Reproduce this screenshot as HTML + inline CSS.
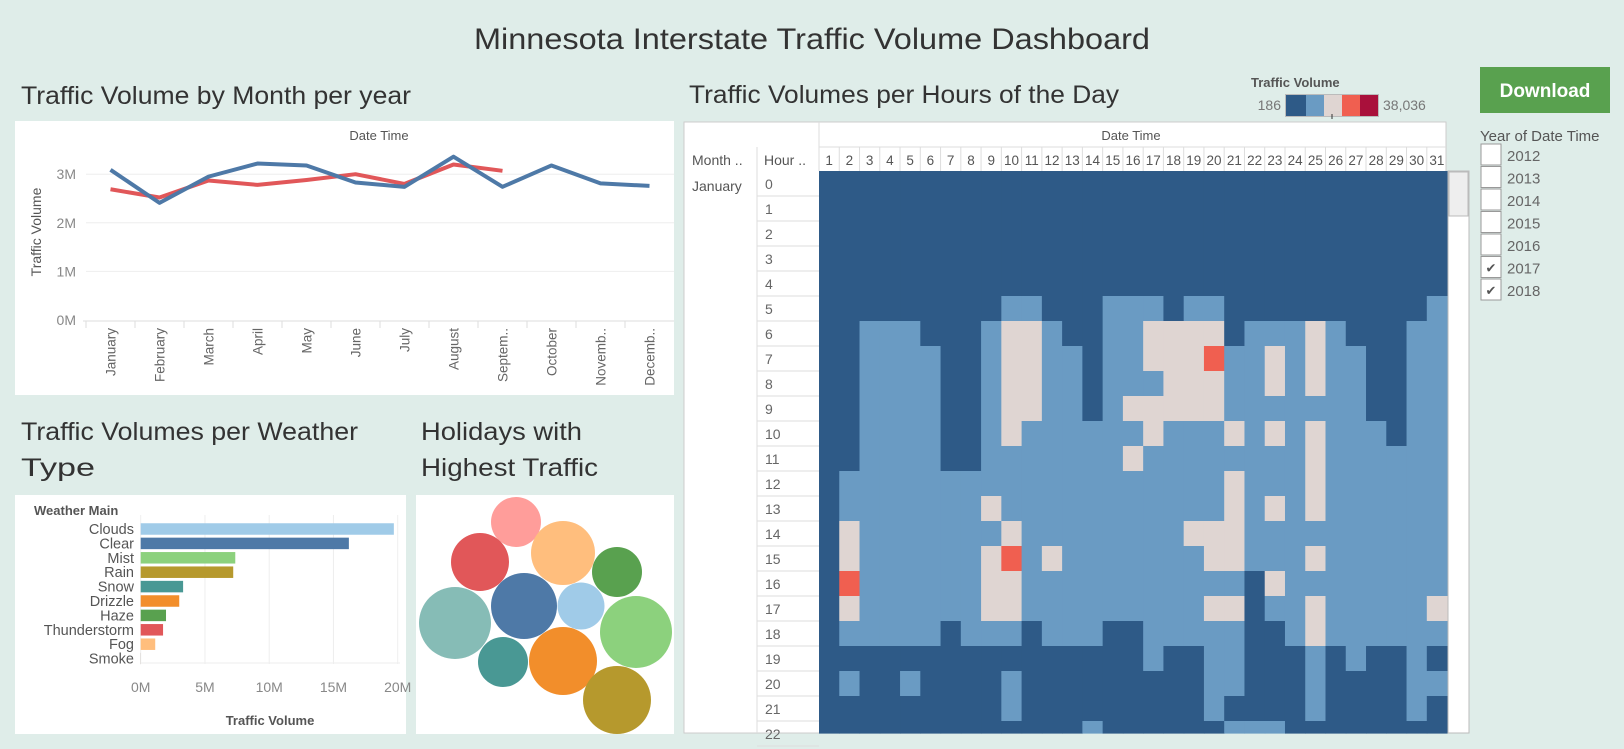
<!DOCTYPE html>
<html><head><meta charset="utf-8"><title>Minnesota Interstate Traffic Volume Dashboard</title>
<style>
html,body{margin:0;padding:0;background:#dfede9;}
svg{display:block;font-family:"Liberation Sans",sans-serif;}
</style></head>
<body>
<svg id="dash" width="1624" height="749" viewBox="0 0 1624 749" xmlns="http://www.w3.org/2000/svg">
<rect x="0" y="0" width="1624" height="749" fill="#dfede9"/>
<text x="812" y="49" text-anchor="middle" font-size="30" fill="#333" textLength="676" lengthAdjust="spacingAndGlyphs">Minnesota Interstate Traffic Volume Dashboard</text>

<!-- line chart -->
<text x="21" y="104" font-size="25" fill="#333" textLength="390" lengthAdjust="spacingAndGlyphs">Traffic Volume by Month per year</text>
<rect x="15" y="121" width="659" height="274" fill="#fff"/>
<text x="379" y="140" text-anchor="middle" font-size="13" fill="#555">Date Time</text>
<text transform="translate(41,232) rotate(-90)" text-anchor="middle" font-size="14" fill="#555">Traffic Volume</text>
<g id="lineChart"></g>

<!-- bar chart -->
<text x="21" y="440" font-size="25" fill="#333" textLength="337" lengthAdjust="spacingAndGlyphs">Traffic Volumes per Weather</text>
<text x="21" y="476" font-size="25" fill="#333" textLength="74" lengthAdjust="spacingAndGlyphs">Type</text>
<rect x="15" y="495" width="391" height="239" fill="#fff"/>
<text x="34" y="515" font-size="13" font-weight="bold" fill="#555">Weather Main</text>
<text x="270" y="725" text-anchor="middle" font-size="13" font-weight="bold" fill="#555">Traffic Volume</text>
<g id="barChart"></g>

<!-- bubble chart -->
<text x="421" y="440" font-size="25" fill="#333" textLength="161" lengthAdjust="spacingAndGlyphs">Holidays with</text>
<text x="421" y="476" font-size="25" fill="#333" textLength="177" lengthAdjust="spacingAndGlyphs">Highest Traffic</text>
<rect x="416" y="495" width="258" height="239" fill="#fff"/>
<clipPath id="bclip"><rect x="416" y="495" width="258" height="239"/></clipPath>
<g id="bubbleChart" clip-path="url(#bclip)"></g>

<!-- heatmap -->
<text x="689" y="103" font-size="25" fill="#333" textLength="430" lengthAdjust="spacingAndGlyphs">Traffic Volumes per Hours of the Day</text>
<rect x="684" y="122" width="762" height="611" fill="#fff" stroke="#ccc"/>
<line x1="819" y1="122" x2="819" y2="171" stroke="#ddd"/>
<line x1="819" y1="147" x2="1446" y2="147" stroke="#ddd"/>
<line x1="757" y1="147" x2="757" y2="733" stroke="#ddd"/>
<text x="1131" y="140" text-anchor="middle" font-size="13" fill="#555">Date Time</text>
<text x="692" y="165" font-size="14" fill="#555">Month ..</text>
<text x="764" y="165" font-size="14" fill="#555">Hour ..</text>
<text x="692" y="191" font-size="14" fill="#555">January</text>
<g id="heatmap"></g>
<rect x="1448" y="171" width="21" height="562" fill="#fff" stroke="#bbb"/>
<rect x="1449" y="172" width="19" height="44" fill="#eee" stroke="#bbb"/>

<!-- legend -->
<text x="1251" y="87" font-size="13" font-weight="bold" fill="#555">Traffic Volume</text>
<text x="1281" y="110" text-anchor="end" font-size="14" fill="#777">186</text>
<text x="1383" y="110" font-size="14" fill="#777">38,036</text>
<g>
<rect x="1285" y="94" width="94" height="23" fill="#bbb"/>
<rect x="1286" y="95" width="20" height="21" fill="#2e5a87"/>
<rect x="1306" y="95" width="18" height="21" fill="#6a9bc3"/>
<rect x="1324" y="95" width="18" height="21" fill="#dfd5d2"/>
<rect x="1342" y="95" width="18" height="21" fill="#f05f50"/>
<rect x="1360" y="95" width="18" height="21" fill="#a9103b"/>
<line x1="1332" y1="114" x2="1332" y2="119" stroke="#333"/>
</g>

<!-- download -->
<g>
<rect x="1480" y="67" width="130" height="46" fill="#59a14f"/>
<text x="1545" y="97" text-anchor="middle" font-size="19" font-weight="bold" fill="#fff">Download</text>
</g>
<text x="1480" y="141" font-size="15" fill="#555">Year of Date Time</text>
<g id="yearFilter"></g>
</svg>

<script>
const NS="http://www.w3.org/2000/svg";
function mk(tag,attrs,parent){const e=document.createElementNS(NS,tag);for(const k in attrs)e.setAttribute(k,attrs[k]);parent.appendChild(e);return e;}

/* ---------- line chart data ---------- */
const months=["January","February","March","April","May","June","July","August","Septem..","October","Novemb..","Decemb.."];
const seriesBlue=[3.09,2.41,2.95,3.22,3.18,2.83,2.74,3.36,2.74,3.18,2.81,2.76];
const seriesRed=[2.69,2.52,2.87,2.78,2.88,3.0,2.80,3.20,3.07];
const lineTicks=[0,1,2,3];
const lineTickLabels=["0M","1M","2M","3M"];

/* ---------- bar chart data ---------- */
const weatherCats=["Clouds","Clear","Mist","Rain","Snow","Drizzle","Haze","Thunderstorm","Fog","Smoke"];
const weatherVals=[19.7,16.2,7.36,7.2,3.3,3.0,1.97,1.74,1.13,0.02];
const weatherColors=["#a0cbe8","#4e79a7","#8cd17d","#b6992d","#499894","#f28e2b","#59a14f","#e15759","#ffbe7d","#bab0ac"];
const barTicks=[0,5,10,15,20];
const barTickLabels=["0M","5M","10M","15M","20M"];

/* ---------- bubble data ---------- */
const holidayVolumes=[2500,3364,4096,2500,5184,4356,2209,5184,2500,4624,4624];
const holidayColors=["#ff9d9a","#e15759","#ffbe7d","#59a14f","#86bcb6","#4e79a7","#a0cbe8","#8cd17d","#499894","#f28e2b","#b6992d"];

/* ---------- heatmap data (0=low dark,1=light blue,2=pale,3=red) ---------- */
const days=Array.from({length:31},(_,i)=>String(i+1));
const hours=["0","1","2","3","4","5","6","7","8","9","10","11","12","13","14","15","16","17","18","19","20","21","22"];
const heatRows=[
"DDDDDDDDDDDDDDDDDDDDDDDDDDDDDDD",
"DDDDDDDDDDDDDDDDDDDDDDDDDDDDDDD",
"DDDDDDDDDDDDDDDDDDDDDDDDDDDDDDD",
"DDDDDDDDDDDDDDDDDDDDDDDDDDDDDDD",
"DDDDDDDDDDDDDDDDDDDDDDDDDDDDDDD",
"DDDDDDDDDLLDDDLLLDLLDDDDDDDDDDL",
"DDLLLDDDLPPLDDLLPPPPDLLLPLDDDLL",
"DDLLLLDDLPPLLDLLPPPRLLPLPLLDDLL",
"DDLLLLDDLPPLLDLLLPPPLLPLPLLDDLL",
"DDLLLLDDLPPLLDLPPPPPLLLLLLLDDLL",
"DDLLLLDDLPLLLLLLPLLLPLPLPLLLDLL",
"DDLLLLDDLLLLLLLPLLLLLLLLPLLLLLL",
"DLLLLLLLLLLLLLLLLLLLPLLLPLLLLLL",
"DLLLLLLLPLLLLLLLLLLLPLPLPLLLLLL",
"DPLLLLLLLPLLLLLLLLPPPLLLLLLLLLL",
"DPLLLLLLPRLPLLLLLLLPPLLLPLLLLLL",
"DRLLLLLLPPLLLLLLLLLLLDPLLLLLLLL",
"DPLLLLLLPPLLLLLLLLLPPDLLPLLLLLP",
"DLLLLLDLLLDLLLDDLLLLLDDLPLLLLLL",
"DDDDDDDDDDDDDDDDLDDLLDDDLDLDDLD",
"DLDDLDDDDLDDDDDDDDDLLDDDLDDDDLL",
"DDDDDDDDDLDDDDDDDDDLDDDDLDDDDLD",
"DDDDDDDDDDDDDLDDDDDDLLLDDDDDDDD"];
const heatColors={D:"#2e5a87",L:"#6a9bc3",P:"#dfd5d2",R:"#f05f50"};
const years=["2012","2013","2014","2015","2016","2017","2018"];
const yearChecked=[false,false,false,false,false,true,true];

/* ---------- line chart ---------- */
(function(){
  const g=document.getElementById("lineChart");
  const x0=86,step=49,yb=320,ky=48.6;
  const x=i=>x0+step*(i+0.5), y=v=>yb-ky*v;
  lineTicks.forEach((t,i)=>{
    if(t>0){const gl=mk("line",{x1:x0,x2:674,y1:y(t),y2:y(t),stroke:"#eee"},g);
    
    }
    const tl=mk("text",{x:76,y:y(t)+5,"text-anchor":"end","font-size":14,fill:"#888"},g);
    tl.textContent=lineTickLabels[i];
    
    
  });
  const ax=mk("line",{x1:x0-3,x2:674,y1:yb+1,y2:yb+1,stroke:"#ddd"},g);
  
  
  months.forEach((m,i)=>{
    const tk=mk("line",{x1:x0+step*i,x2:x0+step*i,y1:yb+1,y2:yb+8,stroke:"#ddd"},g);
    
    
    const t=mk("text",{transform:`translate(${x(i)+5},${yb+8}) rotate(-90)`,"text-anchor":"end","font-size":13.5,fill:"#666"},g);
    t.textContent=m;
    
    
  });
  const pr=mk("polyline",{points:seriesRed.map((v,i)=>x(i)+","+y(v)).join(" "),fill:"none",stroke:"#e15759","stroke-width":4,"stroke-linejoin":"round"},g);
  
  
  const pb=mk("polyline",{points:seriesBlue.map((v,i)=>x(i)+","+y(v)).join(" "),fill:"none",stroke:"#4e79a7","stroke-width":4,"stroke-linejoin":"round"},g);
  
  
})();

/* ---------- bar chart ---------- */
(function(){
  const g=document.getElementById("barChart");
  const x0=140.7,kx=12.85,yc0=529,dy=14.4,bh=11.5;
  const x=v=>x0+kx*v;
  barTicks.forEach((t,i)=>{
    const gl=mk("line",{x1:x(t),x2:x(t),y1:515,y2:664,stroke:"#eee"},g);
    
    
    const tl=mk("text",{x:x(t),y:692,"text-anchor":"middle","font-size":14,fill:"#888"},g);
    tl.textContent=barTickLabels[i];
    
    
  });
  const ax=mk("line",{x1:x0,x2:400,y1:663,y2:663,stroke:"#eee"},g);
  
  
  weatherCats.forEach((c,i)=>{
    const yc=yc0+dy*i;
    const lb=mk("text",{x:134,y:yc+5,"text-anchor":"end","font-size":14.5,fill:"#555"},g);
    lb.textContent=c;
    
    
    const r=mk("rect",{x:x0,y:yc-bh/2,width:Math.max(0,x(weatherVals[i])-x0),height:bh,fill:weatherColors[i]},g);
    
    
  });
})();

/* ---------- bubbles ---------- */
(function(){
  const g=document.getElementById("bubbleChart");
  const layout=[[516,522],[480,562],[563,553],[617,572],[455,623],[524,606],[581,606],[636,632],[503,662],[563,661],[617,700]];
  holidayVolumes.forEach((v,i)=>{
    const c=mk("circle",{cx:layout[i][0],cy:layout[i][1],r:Math.sqrt(v)*0.5,fill:holidayColors[i]},g);
    
    
  });
})();

/* ---------- heatmap ---------- */
(function(){
  const g=document.getElementById("heatmap");
  const x0=819,cw=20.26,y0=171,rh=25,yMax=733;
  days.forEach((d,j)=>{
    const t=mk("text",{x:x0+cw*(j+0.5),y:165,"text-anchor":"middle","font-size":13.5,fill:"#555"},g);
    t.textContent=d;
    
    
    if(j>0){const l=mk("line",{x1:x0+cw*j,x2:x0+cw*j,y1:147,y2:171,stroke:"#ddd"},g);
    
    }
  });
  hours.forEach((h,r)=>{
    const yt=y0+rh*r;
    if(yt>=yMax)return;
    const hh=Math.min(rh,yMax-yt);
    const ln=mk("line",{x1:757,x2:819,y1:yt+rh,y2:yt+rh,stroke:"#ddd"},g);
    
    
    const t=mk("text",{x:765,y:yt+18,"font-size":14,fill:"#666"},g);
    t.textContent=h;
    
    
    const row=heatRows[r];
    for(let j=0;j<days.length;j++){
      const c=mk("rect",{x:x0+cw*j,y:yt,width:cw+0.6,height:hh+0.6,fill:heatColors[row[j]]},g);
      
      
    }
  });
})();

/* ---------- year filter ---------- */
(function(){
  const g=document.getElementById("yearFilter");
  years.forEach((yr,i)=>{
    const yc=155+22.5*i;
    const b=mk("rect",{x:1481,y:yc-11,width:20,height:21,fill:"#fff",stroke:"#999"},g);
    
    
    if(yearChecked[i]){
      const ck=mk("text",{x:1491,y:yc+5,"text-anchor":"middle","font-size":13,fill:"#555"},g);
      ck.textContent="✔";
      
      
    }
    const t=mk("text",{x:1507,y:yc+6,"font-size":15,fill:"#666"},g);
    t.textContent=yr;
    
    
  });
})();
</script>
</body></html>
